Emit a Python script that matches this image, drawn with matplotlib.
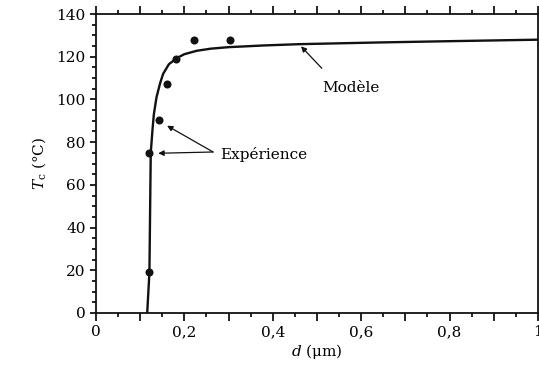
import numpy as np
import matplotlib
matplotlib.use("Agg")
import matplotlib.pyplot as plt
from matplotlib.ticker import MultipleLocator, FixedLocator

plt.rcParams['font.family'] = ['DejaVu Serif']
plt.rcParams['mathtext.fontset'] = 'dejavuserif'

# experimental points
d_exp = [0.121, 0.121, 0.143, 0.161, 0.182, 0.222, 0.303]
tc_exp = [19.2, 74.8, 90.4, 107.2, 119.0, 128.0, 128.0]

# model curve
d_mod = [0.116, 0.121, 0.124, 0.128, 0.131, 0.137, 0.145, 0.152, 0.165,
         0.183, 0.200, 0.228, 0.260, 0.300, 0.380, 0.460, 0.640, 0.800, 1.0]
tc_mod = [0.0, 19.0, 75.0, 86.0, 93.0, 101.0, 107.5, 112.0, 116.5,
          119.4, 121.2, 122.8, 123.8, 124.5, 125.3, 125.9, 126.7, 127.3, 128.0]

xlabels = ['0', '0,2', '0,4', '0,6', '0,8', '1']
yticks = [0, 20, 40, 60, 80, 100, 120, 140]

fig = plt.figure(figsize=(5.39, 3.76), dpi=100)
ax = fig.add_axes([0.178, 0.1676, 0.820, 0.795])

ax.plot(d_mod, tc_mod, color='#111111', lw=1.7, solid_capstyle='butt')
ax.plot(d_exp, tc_exp, 'o', color='#111111', ms=5.8, mec='none')

ax.set_xlim(0, 1)
ax.set_ylim(0, 140)

# major ticks every 0.1, labels every 0.2
ax.xaxis.set_major_locator(FixedLocator(np.round(np.arange(0, 1.01, 0.1), 2)))
ax.xaxis.set_minor_locator(MultipleLocator(0.05))
ax.set_xticklabels([xlabels[i // 2] if i % 2 == 0 else '' for i in range(11)])
ax.set_yticks(yticks)
ax.yaxis.set_minor_locator(MultipleLocator(5))

ax.tick_params(axis='x', which='major', direction='out', length=6, width=1.2,
               top=True, bottom=True, labelsize=11, pad=3)
ax.tick_params(axis='x', which='minor', direction='out', length=3, width=1.2,
               top=True, bottom=True)
ax.tick_params(axis='y', which='major', direction='out', length=4.5, width=1.2,
               left=True, right=False, labelsize=11, pad=3)
ax.tick_params(axis='y', which='minor', direction='out', length=3, width=1.2,
               left=True, right=False)
for s in ax.spines.values():
    s.set_linewidth(1.3)
    s.set_color('#111111')

ax.set_xlabel(r'$d$ (μm)', fontsize=11, labelpad=2)
ax.set_ylabel(r'$T_\mathrm{c}$ (°C)', fontsize=11, labelpad=6)

arrow = dict(arrowstyle='-|>', color='#111111', lw=0.9, mutation_scale=8,
             shrinkA=0, shrinkB=0)
ax.text(0.511, 105.3, 'Modèle', fontsize=11, va='center', ha='left')
ax.annotate('', xy=(0.464, 124.9), xytext=(0.511, 114.6), arrowprops=arrow)

ax.text(0.281, 74.4, 'Expérience', fontsize=11, va='center', ha='left')
ax.annotate('', xy=(0.161, 87.7), xytext=(0.265, 75.4), arrowprops=arrow)
ax.annotate('', xy=(0.141, 74.8), xytext=(0.265, 75.4), arrowprops=arrow)

fig.savefig('out.png', dpi=100)
